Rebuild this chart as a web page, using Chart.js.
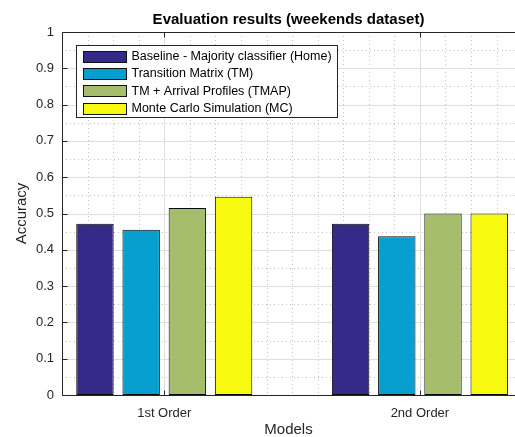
<!DOCTYPE html>
<html>
<head>
<meta charset="utf-8">
<script src="https://cdn.jsdelivr.net/npm/chart.js@4/dist/chart.umd.min.js"></script>
<style>
  html, body { margin: 0; padding: 0; background: #ffffff; }
  #wrap { width: 515px; height: 437px; }
</style>
</head>
<body>
<div id="wrap"><canvas id="c" width="515" height="437"></canvas></div>
<script>
// Model orders on the x axis and where each group sits
const categories = ['1st Order', '2nd Order'];
const categoryPositions = [1, 2];

// Accuracy per model, one value per order
const seriesNames = [
  'Baseline - Majority classifier (Home)',
  'Transition Matrix (TM)',
  'TM + Arrival Profiles (TMAP)',
  'Monte Carlo Simulation (MC)'
];
const baselineAcc = [0.472, 0.472];
const transitionMatrixAcc = [0.455, 0.437];
const tmapAcc = [0.515, 0.500];
const monteCarloAcc = [0.546, 0.500];
const seriesColors = ['#352a87', '#079fcf', '#a6bd6b', '#f7f90e'];

// Accuracy axis ticks
const yTicks = [0, 0.1, 0.2, 0.3, 0.4, 0.5, 0.6, 0.7, 0.8, 0.9, 1];
const yMinorTicks = [0.05, 0.15, 0.25, 0.35, 0.45, 0.55, 0.65, 0.75, 0.85, 0.95];
const xMinorTicks = [0.7, 0.8, 0.9, 1.1, 1.2, 1.3, 1.4, 1.5, 1.6, 1.7, 1.8, 1.9, 2.1, 2.2, 2.3];

const allSeries = [baselineAcc, transitionMatrixAcc, tmapAcc, monteCarloAcc];

const datasets = allSeries.map((vals, i) => ({
  label: seriesNames[i],
  data: vals.map((v, j) => ({ x: categoryPositions[j], y: v })),
  backgroundColor: seriesColors[i],
  borderColor: '#0a0a0a',
  borderWidth: 1,
  borderSkipped: false
}));

const AXIS_COLOR = '#262626';
const FONT = '"Liberation Sans", Arial, Helvetica, sans-serif';

// Grid behind the bars: solid major lines, dotted minor lines
const gridPlugin = {
  id: 'matlabGrid',
  beforeDatasetsDraw(chart) {
    const { ctx, chartArea: a, scales: { x, y } } = chart;
    ctx.save();
    ctx.lineWidth = 1;
    // minor dotted
    ctx.strokeStyle = '#c4c4c4';
    ctx.setLineDash([1, 3]);
    yMinorTicks.forEach(v => {
      const py = Math.round(y.getPixelForValue(v)) + 0.5;
      ctx.beginPath(); ctx.moveTo(a.left, py); ctx.lineTo(a.right, py); ctx.stroke();
    });
    xMinorTicks.forEach(v => {
      const px = Math.round(x.getPixelForValue(v)) + 0.5;
      ctx.beginPath(); ctx.moveTo(px, a.top); ctx.lineTo(px, a.bottom); ctx.stroke();
    });
    // major solid
    ctx.setLineDash([]);
    ctx.strokeStyle = '#dedede';
    yTicks.forEach(v => {
      const py = Math.round(y.getPixelForValue(v)) + 0.5;
      ctx.beginPath(); ctx.moveTo(a.left, py); ctx.lineTo(a.right, py); ctx.stroke();
    });
    categoryPositions.forEach(v => {
      const px = Math.round(x.getPixelForValue(v)) + 0.5;
      ctx.beginPath(); ctx.moveTo(px, a.top); ctx.lineTo(px, a.bottom); ctx.stroke();
    });
    ctx.restore();
  }
};

// Axes box, inward tick marks and the in-plot legend
const framePlugin = {
  id: 'matlabFrame',
  afterDatasetsDraw(chart) {
    const { ctx, chartArea: a, scales: { x, y } } = chart;
    ctx.save();
    ctx.strokeStyle = AXIS_COLOR;
    ctx.lineWidth = 1;
    const L = Math.round(a.left) + 0.5;
    const T = Math.round(a.top) + 0.5;
    const B = Math.round(a.bottom) + 0.5;
    ctx.beginPath();
    ctx.moveTo(a.right, T); ctx.lineTo(L, T); ctx.lineTo(L, B); ctx.lineTo(a.right, B);
    ctx.stroke();
    const tick = 5;
    yTicks.forEach(v => {
      const py = Math.round(y.getPixelForValue(v)) + 0.5;
      ctx.beginPath(); ctx.moveTo(L, py); ctx.lineTo(L + tick, py); ctx.stroke();
    });
    categoryPositions.forEach(v => {
      const px = Math.round(x.getPixelForValue(v)) + 0.5;
      ctx.beginPath(); ctx.moveTo(px, B); ctx.lineTo(px, B - tick); ctx.stroke();
      ctx.beginPath(); ctx.moveTo(px, T); ctx.lineTo(px, T + tick); ctx.stroke();
    });

    // legend
    const bx = Math.round(a.left + 14) + 0.5;
    const by = Math.round(a.top + 13) + 0.5;
    const bw = 261, bh = 72;
    ctx.fillStyle = '#ffffff';
    ctx.fillRect(bx, by, bw, bh);
    ctx.strokeStyle = AXIS_COLOR;
    ctx.strokeRect(bx, by, bw, bh);
    ctx.font = '12.5px ' + FONT;
    ctx.textBaseline = 'middle';
    ctx.textAlign = 'left';
    chart.data.datasets.forEach((ds, i) => {
      const cy = by + 10.5 + i * 17.4;
      const sy = Math.round(cy - 5.5) + 0.5;
      ctx.fillStyle = ds.backgroundColor;
      ctx.fillRect(bx + 7, sy, 43, 11);
      ctx.strokeStyle = '#111111';
      ctx.strokeRect(bx + 7, sy, 43, 11);
      ctx.fillStyle = '#000000';
      ctx.fillText(ds.label, bx + 55, cy + 0.5);
    });
    ctx.restore();
  }
};

new Chart(document.getElementById('c'), {
  type: 'bar',
  data: { datasets },
  options: {
    responsive: false,
    animation: false,
    events: [],
    layout: { padding: { top: 0, left: 0, right: 0, bottom: 0 } },
    datasets: { bar: { categoryPercentage: 0.723, barPercentage: 0.81, grouped: true } },
    plugins: {
      legend: { display: false },
      tooltip: { enabled: false },
      title: {
        display: true,
        fullSize: false,
        text: 'Evaluation results (weekends dataset)',
        color: '#000000',
        font: { family: FONT, size: 15, weight: 'bold' },
        padding: { top: 11, bottom: 3 }
      }
    },
    scales: {
      x: {
        type: 'linear',
        offset: false,
        min: 0.6,
        max: 2.372,
        afterBuildTicks(scale) { scale.ticks = categoryPositions.map(v => ({ value: v })); },
        afterFit(scale) { scale.height = 42; },
        grid: { display: false, drawTicks: false, offset: false },
        border: { display: false },
        ticks: {
          autoSkip: false,
          maxRotation: 0,
          padding: 11,
          color: AXIS_COLOR,
          font: { family: FONT, size: 13 },
          callback: (v, i) => categories[i]
        },
        title: {
          display: true,
          text: 'Models',
          color: AXIS_COLOR,
          font: { family: FONT, size: 15 },
          padding: { top: 0, bottom: -2 }
        }
      },
      y: {
        min: 0,
        max: 1,
        afterBuildTicks(scale) { scale.ticks = yTicks.map(v => ({ value: v })); },
        afterFit(scale) { scale.width = 62; },
        grid: { display: false, drawTicks: false },
        border: { display: false },
        ticks: {
          padding: 8,
          color: AXIS_COLOR,
          font: { family: FONT, size: 13 },
          callback: v => String(Math.round(v * 10) / 10)
        },
        title: {
          display: true,
          text: 'Accuracy',
          color: AXIS_COLOR,
          font: { family: FONT, size: 15 },
          padding: { top: 13, bottom: 0 }
        }
      }
    }
  },
  plugins: [gridPlugin, framePlugin]
});
</script>
</body>
</html>
